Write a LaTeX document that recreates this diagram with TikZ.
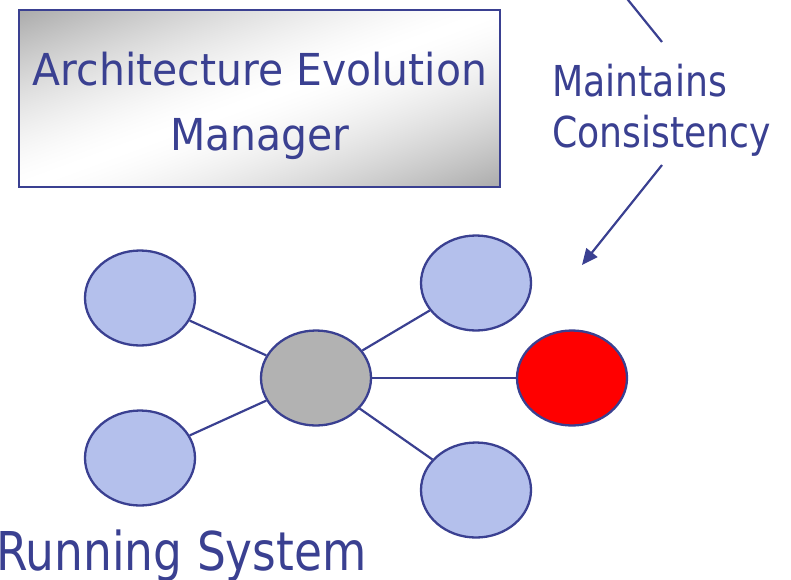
\documentclass[tikz,border=0pt]{standalone}
\usepackage{fontspec}
\setmainfont{DejaVu Sans}
\newfontfamily\tahfont{DejaVu Sans}[FakeStretch=0.85]
\newfontfamily\tahwide{DejaVu Sans}[FakeStretch=0.93]
\usetikzlibrary{arrows.meta,shapes.geometric}
\definecolor{navy}{RGB}{58,64,145}
\definecolor{bubble}{RGB}{180,192,236}
\definecolor{hubgrey}{RGB}{178,178,178}
\definecolor{alert}{RGB}{255,0,0}
\pgfdeclarefunctionalshading{mgrshade}{\pgfpoint{0bp}{0bp}}{\pgfpoint{100bp}{100bp}}{}{
  sub abs 50 div dup sqrt mul 0.33 mul 1 exch sub dup dup
}
\tikzset{
  comp/.style={ellipse, draw=navy, line width=2.3pt, minimum width=110pt,
    minimum height=95pt, inner sep=0pt, fill=bubble},
  link/.style={draw=navy, line width=2.2pt},
  lbl/.style={text=navy, inner sep=0pt},
  mgrbox/.style={draw=navy, line width=1.8pt, inner sep=0pt, shading=mgrshade},
}
\begin{document}
\begin{tikzpicture}[x=1pt,y=-1pt]
\useasboundingbox (0,0) rectangle (791,579);
\clip (0,0) rectangle (791,579);
% manager box
\node[mgrbox, minimum width=481pt, minimum height=177pt] (mgr) at (259.5,98.5) {};
\node[lbl, font={\tahwide\fontsize{44}{65}\selectfont}, align=center] (mgrtext) at (260,105.5) {Architecture Evolution\\Manager};
% maintains label and arrows
\node[lbl, font={\tahfont\fontsize{42.6}{51}\selectfont}, align=left, anchor=west] (maint) at (552,110) {Maintains\\Consistency};
\coordinate (upfrom) at (620,-10);
\coordinate (upto) at (662,42);
\coordinate (arrfrom) at (662,165);
\coordinate (arrto) at (582,265);
\draw[link] (upfrom) -- (upto);
\draw[link, -{Triangle[length=16pt,width=14pt]}] (arrfrom) -- (arrto);
% running system
\node[comp, fill=hubgrey] (hub) at (316,378) {};
\node[comp] (lt) at (140,298) {};
\node[comp] (lb) at (140,458) {};
\node[comp] (rt) at (476,283) {};
\node[comp] (rb) at (476,490) {};
\node[comp, fill=alert] (new) at (572,378) {};
\draw[link] (hub) -- (lt);
\draw[link] (hub) -- (lb);
\draw[link] (hub) -- (rt);
\draw[link] (hub) -- (rb);
\draw[link] (hub) -- (new);
\node[lbl, font={\tahfont\fontsize{53.5}{60}\selectfont}, anchor=base west] (run) at (-4,570) {Running System};
\end{tikzpicture}
\end{document}
